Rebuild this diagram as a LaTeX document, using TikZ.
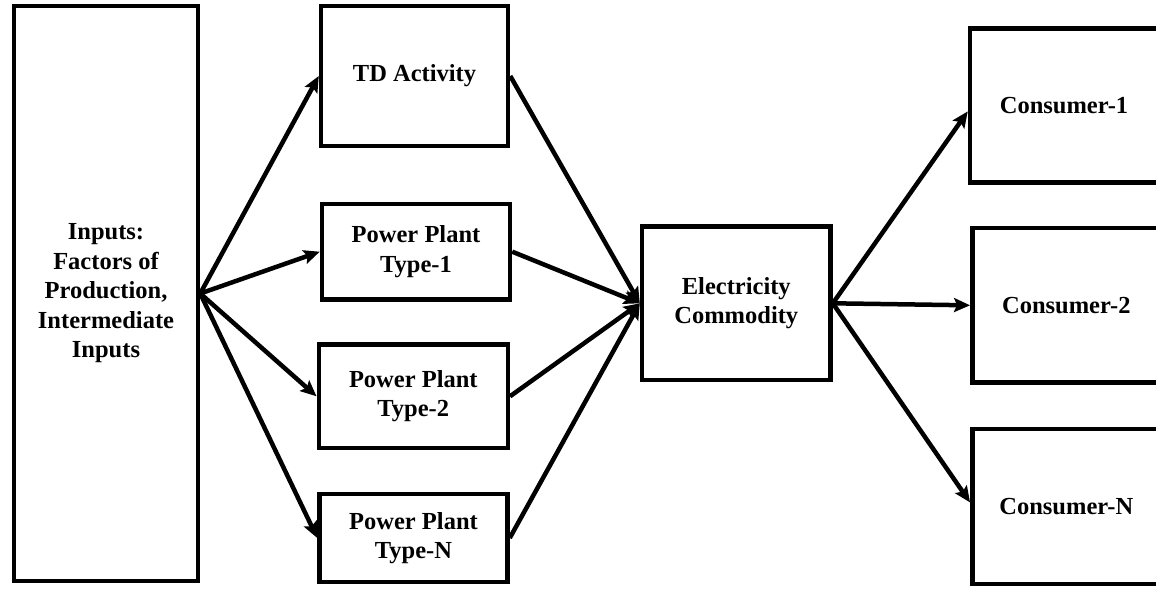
\documentclass[tikz,border=0pt]{standalone}
\usepackage{fontspec}
\setmainfont{Liberation Serif}
\usetikzlibrary{arrows.meta}
\begin{document}
\begin{tikzpicture}[x=1pt,y=-1pt,
  box/.style={draw, line width=4.5pt, align=center, inner sep=0pt,
    font=\bfseries\fontsize{24.5}{29.5}\selectfont},
  flow/.style={line width=4.5pt, -{Stealth[length=16pt,width=14pt,inset=3pt]}}]
\useasboundingbox (0,0) rectangle (1156,589);

% source of all production inputs
\node[box, minimum width=184pt, minimum height=575pt] (inp) at (106,293.5)
  {Inputs:\\Factors of\\Production,\\Intermediate\\Inputs};

% generation and transmission activities
\node[box, minimum width=187pt, minimum height=140pt] (td) at (414.5,76) {TD Activity};
\node[box, minimum width=188pt, minimum height=95.5pt] (pp1) at (416,251.7) {Power Plant\\Type-1};
\node[box, minimum width=189pt, minimum height=103.3pt] (pp2) at (413.3,396.3) {Power Plant\\Type-2};
\node[box, minimum width=188pt, minimum height=88pt] (ppn) at (413.5,538) {Power Plant\\Type-N};

% aggregated commodity
\node[box, minimum width=188.5pt, minimum height=153.5pt] (elec) at (736.3,303.3) {Electricity\\Commodity};

% final demand
\node[box, minimum width=188pt, minimum height=154pt] (c1) at (1064,105.4) {Consumer-1};
\node[box, minimum width=188pt, minimum height=154.5pt] (c2) at (1066.3,305.3) {Consumer-2};
\node[box, minimum width=188pt, minimum height=154.8pt] (cn) at (1066.3,506.4) {Consumer-N};

% inputs feed every activity
\draw[flow] (inp.east) -- (td.west);
\draw[flow] (inp.east) -- (pp1.west);
\draw[flow] (inp.east) -- (pp2.west);
\draw[flow] (inp.east) -- (ppn.west);

% activities produce electricity
\draw[flow] (td.east) -- (elec.west);
\draw[flow] (pp1.east) -- (elec.west);
\draw[flow] (pp2.east) -- (elec.west);
\draw[flow] (ppn.east) -- (elec.west);

% electricity delivered to consumers
\draw[flow] (elec.east) -- ([yshift=-6pt]c1.west);
\draw[flow] (elec.east) -- (c2.west);
\draw[flow] (elec.east) -- ([yshift=4pt]cn.west);
\end{tikzpicture}
\end{document}
